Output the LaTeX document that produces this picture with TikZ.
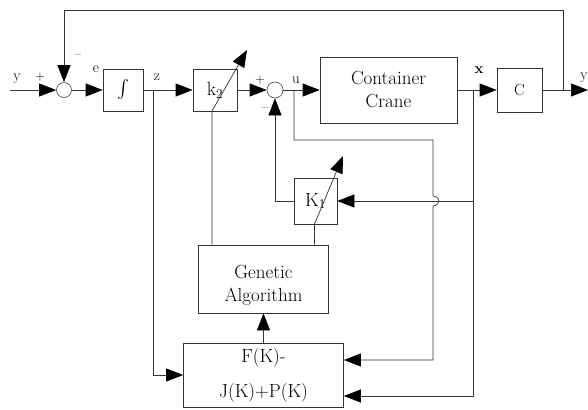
\documentclass[tikz,border=0pt]{standalone}
\usepackage{fontspec}
\usepackage{graphicx}
\usetikzlibrary{arrows.meta}
\begin{document}
\begin{tikzpicture}[x=1pt,y=-1pt,
  ln/.style={draw=black!80, line width=0.7pt},
  arr/.style={ln, -{Triangle[length=17pt,width=13pt,color=black]}},
  box/.style={draw=black!80, line width=0.7pt, rectangle, inner sep=0pt, align=center,
              font=\fontsize{19}{23}\selectfont},
  sum/.style={circle, draw=black!65, line width=0.7pt, minimum size=15pt, inner sep=0pt},
  lab/.style={inner sep=0pt, font=\fontsize{15}{15}\selectfont},
  sg/.style={inner sep=0pt, font=\fontsize{13}{13}\selectfont}]
\useasboundingbox (0,0) rectangle (588,409);
% main path nodes
\coordinate (yin) at (10,90);
\node[sum] (s1) at (64,90) {};
\node[box, minimum width=40pt, minimum height=42pt] (int) at (123,90) {\scalebox{1.8}{$\int$}};
\coordinate (jz) at (153,90);
\node[box, minimum width=44pt, minimum height=42pt] (k2) at (215,90) {k\textsubscript{2}};
\node[sum, minimum size=16pt] (s2) at (275,90) {};
\coordinate (ju) at (294,90);
\node[box, minimum width=137pt, minimum height=66pt] (crane) at (388.5,90) {Container\\Crane};
\coordinate (jx) at (473,90);
\node[box, minimum width=45pt, minimum height=44pt, font=\fontsize{16}{16}\selectfont] (C) at (519.5,90) {C};
\coordinate (jy) at (563,90);
\coordinate (yout) at (588,90);
\coordinate (tr) at (563,10);
\coordinate (tl) at (64,10);
% lower blocks
\node[box, minimum width=43pt, minimum height=46pt] (K1) at (315.5,201) {K\textsubscript{1}};
\node[box, minimum width=130pt, minimum height=68pt] (GA) at (263.5,279) {};
\node[inner sep=0pt, align=center, font=\fontsize{19}{23}\selectfont] (gat) at (263.5,285) {Genetic\\Algorithm};
\node[box, minimum width=160pt, minimum height=64pt, font=\fontsize{19}{35}\selectfont] (F) at (263.5,375) {F(K)-\\J(K)+P(K)};
% helper coordinates
\coordinate (ua) at (433,140);
\coordinate (hop1) at (433,196);
\coordinate (hop2) at (433,206);
\coordinate (ub) at (433,360);
\coordinate (xk) at (473,201);
\coordinate (xb) at (473,396);
\coordinate (k2b) at (212,111);
\coordinate (k2a) at (247,50);
\coordinate (k1b) at (314.5,224);
\coordinate (k1a) at (343,156);
% main connectors
\draw[arr] (yin) -- (s1.west);
\draw[arr] (s1.east) -- (int.west);
\draw[ln] (int.east) -- (jz);
\draw[arr] (jz) -- (k2.west);
\draw[arr] (k2.east) -- (s2.west);
\draw[ln] (s2.east) -- (ju);
\draw[arr] (ju) -- (crane.west);
\draw[ln] (crane.east) -- (jx);
\draw[arr] (jx) -- (C.west);
\draw[ln] (C.east) -- (jy);
\draw[arr] (jy) -- (yout);
\draw[arr] (jy) -- (tr) -- (tl) -- (s1.north);
% feedback / GA connectors
\draw[arr] (jz) |- (F.west);
\draw[arr] (ju) |- (ua) -- (hop1) .. controls (441,197) and (441,205) .. (hop2) -- (ub) -- (F.east |- ub);
\draw[arr] (jx) -- (xb) -- (F.east |- xb);
\draw[arr] (xk) -- (K1.east);
\draw[arr] (K1.west) -| (s2.south);
\draw[arr] (k1b |- GA.north) -- (k1b) -- (k1a);
\draw[arr] (k2b |- GA.north) -- (k2b) -- (k2a);
\draw[arr] (F.north) -- (GA.south);
% labels
\node[lab] (ly) at (17,79) {y};
\node[sg] (p1) at (40,77) {+};
\node[sg] (m1) at (78,57) {–};
\node[lab] (le) at (96,69) {e};
\node[lab] (lz) at (157,77) {z};
\node[sg] (p2) at (260,80) {+};
\node[sg] (m2) at (265,110) {–};
\node[lab] (lu) at (296,80) {u};
\node[lab] (lx) at (479,70) {\textbf{x}};
\node[lab] (lyo) at (584,78) {y};
\end{tikzpicture}
\end{document}
